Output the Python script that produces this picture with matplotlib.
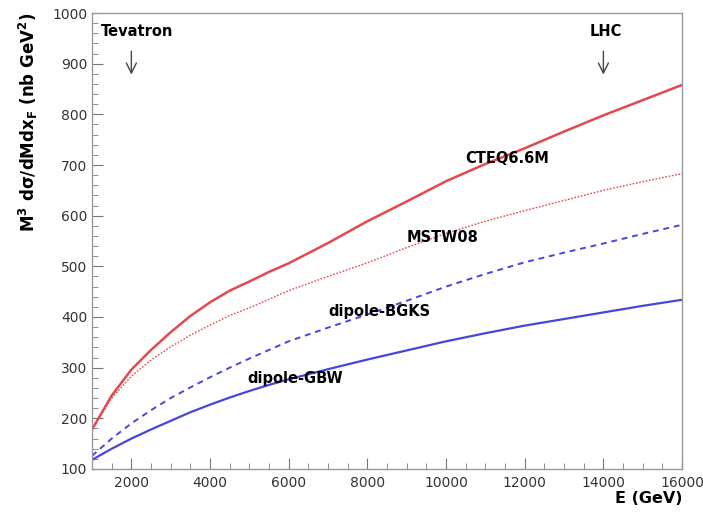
import numpy as np
import matplotlib
matplotlib.use("Agg")
import matplotlib.pyplot as plt
from matplotlib.ticker import MultipleLocator

# Beam energy grid (GeV)
energy = [1000, 1500, 2000, 2500, 3000, 3500, 4000, 4500, 5000, 5500,
          6000, 7000, 8000, 9000, 10000, 11000, 12000, 13000, 14000,
          15000, 16000]

# Curves
cteq66m = [178, 245, 296, 335, 370, 402, 429, 452, 470, 489,
           506, 546, 589, 628, 668, 702, 733, 766, 798, 828, 858]
mstw08 = [179, 240, 283, 315, 341, 364, 384, 403, 418, 435,
          452, 480, 507, 537, 565, 589, 610, 630, 650, 667, 683]
dipole_bgks = [126, 160, 190, 216, 240, 261, 281, 300, 318, 335,
               352, 379, 405, 432, 460, 485, 508, 527, 545, 564, 582]
dipole_gbw = [118, 140, 160, 178, 195, 212, 227, 241, 254, 266,
              277, 297, 316, 334, 352, 368, 383, 396, 409, 422, 434]

RED = '#e5484d'
BLUE = '#4646dc'

plt.rcParams['font.family'] = ['DejaVu Sans']
plt.rcParams['mathtext.default'] = 'bf'

fig = plt.figure(figsize=(7.03, 5.12), dpi=100)
ax = fig.add_axes([0.1309, 0.084, 0.8393, 0.8906])

ax.plot(energy, cteq66m, color=RED, lw=1.8)
ax.plot(energy, mstw08, color=RED, lw=1.0, ls=(0, (1.2, 1.2)))
ax.plot(energy, dipole_bgks, color=BLUE, lw=1.4, ls=(0, (3, 2.5)))
ax.plot(energy, dipole_gbw, color=BLUE, lw=1.6)

ax.set_xlim(1000, 16000)
ax.set_ylim(100, 1000)
ax.xaxis.set_major_locator(MultipleLocator(2000))
ax.xaxis.set_minor_locator(MultipleLocator(500))
ax.yaxis.set_major_locator(MultipleLocator(100))
ax.yaxis.set_minor_locator(MultipleLocator(20))
ax.tick_params(which='both', direction='in', colors='#777777',
               labelcolor='#333333', labelsize=10)
ax.tick_params(which='major', length=8)
ax.tick_params(which='minor', length=4)
ax.tick_params(axis='x', pad=5)
for s in ax.spines.values():
    s.set_color('#999999')
    s.set_linewidth(1.0)

ax.set_xlabel('E (GeV)', fontsize=11.5, fontweight='bold', loc='right',
              labelpad=1)
ax.set_ylabel(r'M$^3$ d$\sigma$/dMdx$_F$ (nb GeV$^2$)', fontsize=12,
              fontweight='bold', loc='top', labelpad=9)

# curve labels
ax.text(10500, 713, 'CTEQ6.6M', fontsize=10.5, fontweight='bold', va='center')
ax.text(9000, 557, 'MSTW08', fontsize=10.5, fontweight='bold', va='center')
ax.text(7000, 411, 'dipole-BGKS', fontsize=10.5, fontweight='bold', va='center')
ax.text(4950, 278, 'dipole-GBW', fontsize=10.5, fontweight='bold', va='center')

# collider markers
ax.text(2150, 963, 'Tevatron', fontsize=10.5, fontweight='bold',
        ha='center', va='center')
ax.annotate('', xy=(2000, 873), xytext=(2000, 930),
            arrowprops=dict(arrowstyle='->', color='#444444', lw=1.0,
                            mutation_scale=18))
ax.text(14050, 963, 'LHC', fontsize=10.5, fontweight='bold',
        ha='center', va='center')
ax.annotate('', xy=(14000, 873), xytext=(14000, 930),
            arrowprops=dict(arrowstyle='->', color='#444444', lw=1.0,
                            mutation_scale=18))

fig.savefig('out.png', dpi=100)
